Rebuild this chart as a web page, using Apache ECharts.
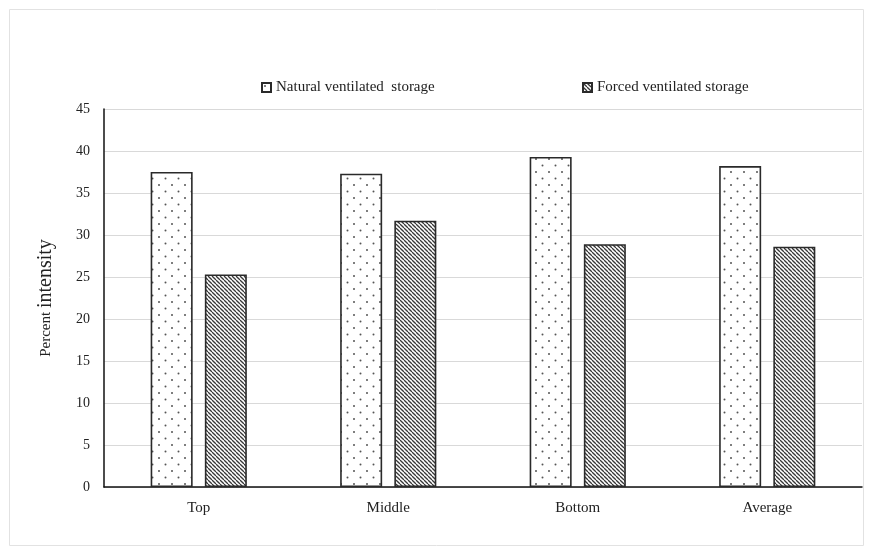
<!DOCTYPE html>
<html>
<head>
<meta charset="utf-8">
<script src="https://cdn.jsdelivr.net/npm/echarts@6/dist/echarts.min.js"></script>
<style>
  html, body { margin: 0; padding: 0; background: #fff; }
  #chart { width: 872px; height: 554px; }
</style>
</head>
<body>
<div id="chart"></div>
<script>
// Storage positions and measured percent intensity
const categories = ['Top', 'Middle', 'Bottom', 'Average'];
const naturalName = 'Natural ventilated  storage';
const forcedName = 'Forced ventilated storage';
const naturalValues = [37.5, 37.3, 39.3, 38.2];
const forcedValues = [25.3, 31.7, 28.9, 28.6];
const yTicks = { min: 0, max: 45, interval: 5 };

// Fill patterns: staggered dots and dense diagonal hatching
function dotPattern() {
  const c = document.createElement('canvas');
  c.width = 13; c.height = 13;
  const g = c.getContext('2d');
  g.fillStyle = '#fff';
  g.fillRect(0, 0, 13, 13);
  g.fillStyle = '#555';
  [[3, 3], [9.5, 9.5]].forEach(([x, y]) => {
    g.beginPath(); g.arc(x, y, 1.0, 0, Math.PI * 2); g.fill();
  });
  return c;
}
function hatchPattern() {
  const s = 4;
  const c = document.createElement('canvas');
  c.width = s; c.height = s;
  const g = c.getContext('2d');
  g.fillStyle = '#fff';
  g.fillRect(0, 0, s, s);
  g.strokeStyle = '#383838';
  g.lineWidth = 1.3;
  for (let o = -s; o <= s; o += s) {
    g.beginPath(); g.moveTo(o, 0); g.lineTo(o + s, s); g.stroke();
  }
  return c;
}

const serif = '"Liberation Serif", "DejaVu Serif", serif';
const chart = echarts.init(document.getElementById('chart'));

const legendText = { fontFamily: serif, fontSize: 15, color: '#222' };

chart.setOption({
  animation: false,
  backgroundColor: '#fff',
  graphic: [{
    type: 'rect',
    shape: { x: 9.5, y: 9.5, width: 854, height: 536 },
    style: { fill: 'none', stroke: '#e2e2e2', lineWidth: 1 },
    silent: true
  }],
  legend: [
    { data: [naturalName], left: 256, top: 75, itemWidth: 9, itemHeight: 9, itemGap: 5, textStyle: legendText, icon: 'rect' },
    { data: [forcedName], left: 577, top: 75, itemWidth: 9, itemHeight: 9, itemGap: 5, textStyle: legendText, icon: 'rect' }
  ],
  grid: { left: 104, right: 10, top: 109, bottom: 67 },
  xAxis: {
    type: 'category',
    data: categories,
    axisLine: { lineStyle: { color: '#111', width: 1.5 } },
    axisTick: { show: false },
    axisLabel: { fontFamily: serif, fontSize: 15, color: '#222', margin: 14 }
  },
  yAxis: {
    type: 'value',
    min: yTicks.min, max: yTicks.max, interval: yTicks.interval,
    name: '{s|Percent }{b|intensity}',
    nameLocation: 'middle',
    nameGap: 48,
    nameRotate: 90,
    nameTextStyle: {
      rich: {
        s: { fontFamily: serif, fontSize: 15, color: '#222' },
        b: { fontFamily: serif, fontSize: 20, color: '#222' }
      }
    },
    axisLine: { show: true, lineStyle: { color: '#111', width: 1.5 } },
    axisTick: { show: false },
    axisLabel: { fontFamily: serif, fontSize: 14, color: '#222', margin: 14 },
    splitLine: { lineStyle: { color: '#d9d9d9', width: 1 } }
  },
  series: [
    {
      name: naturalName,
      type: 'bar',
      data: naturalValues,
      barWidth: 42,
      barGap: '29%',
      itemStyle: {
        color: { image: dotPattern(), repeat: 'repeat' },
        borderColor: '#2a2a2a',
        borderWidth: 1.6
      }
    },
    {
      name: forcedName,
      type: 'bar',
      data: forcedValues,
      barWidth: 42,
      itemStyle: {
        color: { image: hatchPattern(), repeat: 'repeat' },
        borderColor: '#2a2a2a',
        borderWidth: 1.6
      }
    }
  ]
});
</script>
</body>
</html>
